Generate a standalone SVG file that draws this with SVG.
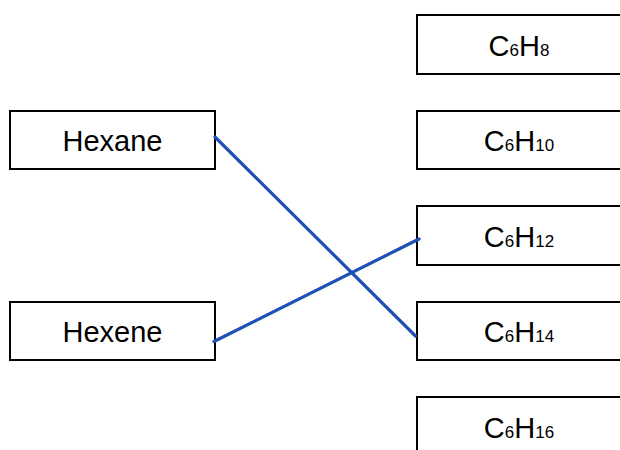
<svg xmlns="http://www.w3.org/2000/svg" width="620" height="450" viewBox="0 0 620 450">
  <style>
    .box { fill: #ffffff; stroke: #000000; stroke-width: 2; }
    .label { font-family: "Liberation Sans", Arial, sans-serif; font-size: 29px; fill: #000000; text-anchor: middle; }
    .sub { font-size: 17px; }
    .link { stroke: #1e4fb5; stroke-width: 3.2; stroke-linecap: round; fill: none; }
  </style>
  <rect width="620" height="450" fill="#ffffff"/>

  <!-- left column: compound names -->
  <g id="hexane">
    <rect class="box" x="10" y="111" width="205" height="58"/>
    <text class="label" x="112.5" y="150.5">Hexane</text>
  </g>
  <g id="hexene">
    <rect class="box" x="10" y="302" width="205" height="58"/>
    <text class="label" x="112.5" y="341.5">Hexene</text>
  </g>

  <!-- right column: molecular formulas -->
  <g id="c6h8">
    <rect class="box" x="417" y="15" width="206" height="59"/>
    <text class="label" x="519" y="56">C<tspan class="sub">6</tspan>H<tspan class="sub">8</tspan></text>
  </g>
  <g id="c6h10">
    <rect class="box" x="417" y="111" width="206" height="58"/>
    <text class="label" x="519" y="151">C<tspan class="sub">6</tspan>H<tspan class="sub">10</tspan></text>
  </g>
  <g id="c6h12">
    <rect class="box" x="417" y="206" width="206" height="59"/>
    <text class="label" x="519" y="247">C<tspan class="sub">6</tspan>H<tspan class="sub">12</tspan></text>
  </g>
  <g id="c6h14">
    <rect class="box" x="417" y="302" width="206" height="58"/>
    <text class="label" x="519" y="342">C<tspan class="sub">6</tspan>H<tspan class="sub">14</tspan></text>
  </g>
  <g id="c6h16">
    <rect class="box" x="417" y="397" width="206" height="60"/>
    <text class="label" x="519" y="438">C<tspan class="sub">6</tspan>H<tspan class="sub">16</tspan></text>
  </g>

  <!-- matching lines -->
  <g id="connectors">
    <line class="link" x1="215" y1="137" x2="415.5" y2="336"/>
    <line class="link" x1="214" y1="341.5" x2="419" y2="239"/>
  </g>
</svg>
